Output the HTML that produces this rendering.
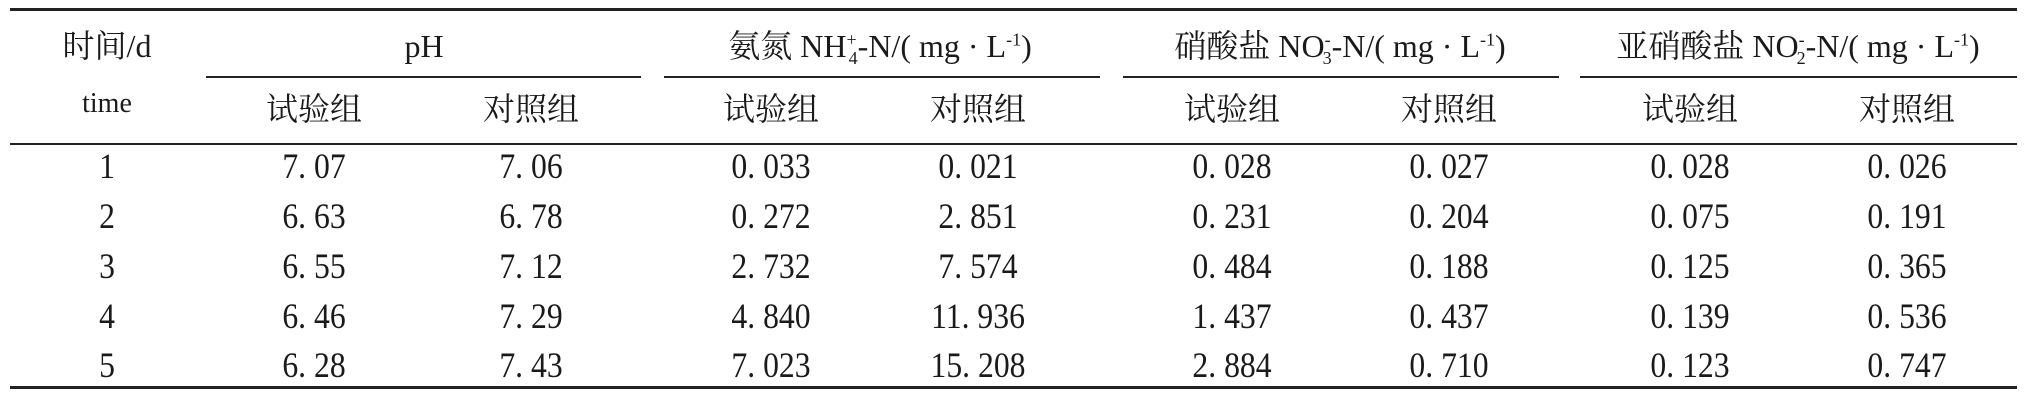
<!DOCTYPE html>
<html><head><meta charset="utf-8"><style>
body{margin:0;width:2032px;height:400px;background:#fff;position:relative;overflow:hidden;font-family:"Liberation Serif","Noto Serif CJK SC","Noto Sans CJK SC",serif;color:#1a1a1a}
.l{position:absolute;background:#222}
.t{position:absolute;font-size:32px;line-height:36px;white-space:nowrap;transform:translate(-50%,-50%)}
.d{font-size:36px;transform:translate(-50%,-50%) scaleX(0.88)}
sup,sub{font-size:18px;line-height:0}
</style></head><body>
<div class="l" style="left:10px;top:8px;width:2007px;height:3px"></div>
<div class="l" style="left:206px;top:76px;width:435px;height:2px"></div>
<div class="l" style="left:664px;top:76px;width:436px;height:2px"></div>
<div class="l" style="left:1123px;top:76px;width:436px;height:2px"></div>
<div class="l" style="left:1580px;top:76px;width:437px;height:2px"></div>
<div class="l" style="left:10px;top:143px;width:2007px;height:2px"></div>
<div class="l" style="left:10px;top:386px;width:2007px;height:3px"></div>

<div class="t" style="left:107px;top:46px">时间/d</div>
<div class="t" style="left:424px;top:46px">pH</div>
<div class="t" style="left:880px;top:46px">氨氮 NH<sup>+</sup><sub style="margin-left:-8px">4</sub>-N/( mg · L<sup>-1</sup>)</div>
<div class="t" style="left:1340px;top:46px">硝酸盐 NO<sup>-</sup><sub style="margin-left:-8px">3</sub>-N/( mg · L<sup>-1</sup>)</div>
<div class="t" style="left:1798px;top:46px">亚硝酸盐 NO<sup>-</sup><sub style="margin-left:-8px">2</sub>-N/( mg · L<sup>-1</sup>)</div>

<div class="t" style="left:107px;top:104px;font-size:28px">time</div>
<div class="t" style="left:314px;top:109px">试验组</div>
<div class="t" style="left:531px;top:109px">对照组</div>
<div class="t" style="left:771px;top:109px">试验组</div>
<div class="t" style="left:978px;top:109px">对照组</div>
<div class="t" style="left:1232px;top:109px">试验组</div>
<div class="t" style="left:1449px;top:109px">对照组</div>
<div class="t" style="left:1690px;top:109px">试验组</div>
<div class="t" style="left:1907px;top:109px">对照组</div>

<div class="t d" style="left:107px;top:166px">1</div><div class="t d" style="left:314px;top:166px">7. 07</div><div class="t d" style="left:531px;top:166px">7. 06</div><div class="t d" style="left:771px;top:166px">0. 033</div><div class="t d" style="left:978px;top:166px">0. 021</div><div class="t d" style="left:1232px;top:166px">0. 028</div><div class="t d" style="left:1449px;top:166px">0. 027</div><div class="t d" style="left:1690px;top:166px">0. 028</div><div class="t d" style="left:1907px;top:166px">0. 026</div>
<div class="t d" style="left:107px;top:216px">2</div><div class="t d" style="left:314px;top:216px">6. 63</div><div class="t d" style="left:531px;top:216px">6. 78</div><div class="t d" style="left:771px;top:216px">0. 272</div><div class="t d" style="left:978px;top:216px">2. 851</div><div class="t d" style="left:1232px;top:216px">0. 231</div><div class="t d" style="left:1449px;top:216px">0. 204</div><div class="t d" style="left:1690px;top:216px">0. 075</div><div class="t d" style="left:1907px;top:216px">0. 191</div>
<div class="t d" style="left:107px;top:266px">3</div><div class="t d" style="left:314px;top:266px">6. 55</div><div class="t d" style="left:531px;top:266px">7. 12</div><div class="t d" style="left:771px;top:266px">2. 732</div><div class="t d" style="left:978px;top:266px">7. 574</div><div class="t d" style="left:1232px;top:266px">0. 484</div><div class="t d" style="left:1449px;top:266px">0. 188</div><div class="t d" style="left:1690px;top:266px">0. 125</div><div class="t d" style="left:1907px;top:266px">0. 365</div>
<div class="t d" style="left:107px;top:316px">4</div><div class="t d" style="left:314px;top:316px">6. 46</div><div class="t d" style="left:531px;top:316px">7. 29</div><div class="t d" style="left:771px;top:316px">4. 840</div><div class="t d" style="left:978px;top:316px">11. 936</div><div class="t d" style="left:1232px;top:316px">1. 437</div><div class="t d" style="left:1449px;top:316px">0. 437</div><div class="t d" style="left:1690px;top:316px">0. 139</div><div class="t d" style="left:1907px;top:316px">0. 536</div>
<div class="t d" style="left:107px;top:365px">5</div><div class="t d" style="left:314px;top:365px">6. 28</div><div class="t d" style="left:531px;top:365px">7. 43</div><div class="t d" style="left:771px;top:365px">7. 023</div><div class="t d" style="left:978px;top:365px">15. 208</div><div class="t d" style="left:1232px;top:365px">2. 884</div><div class="t d" style="left:1449px;top:365px">0. 710</div><div class="t d" style="left:1690px;top:365px">0. 123</div><div class="t d" style="left:1907px;top:365px">0. 747</div>
</body></html>
